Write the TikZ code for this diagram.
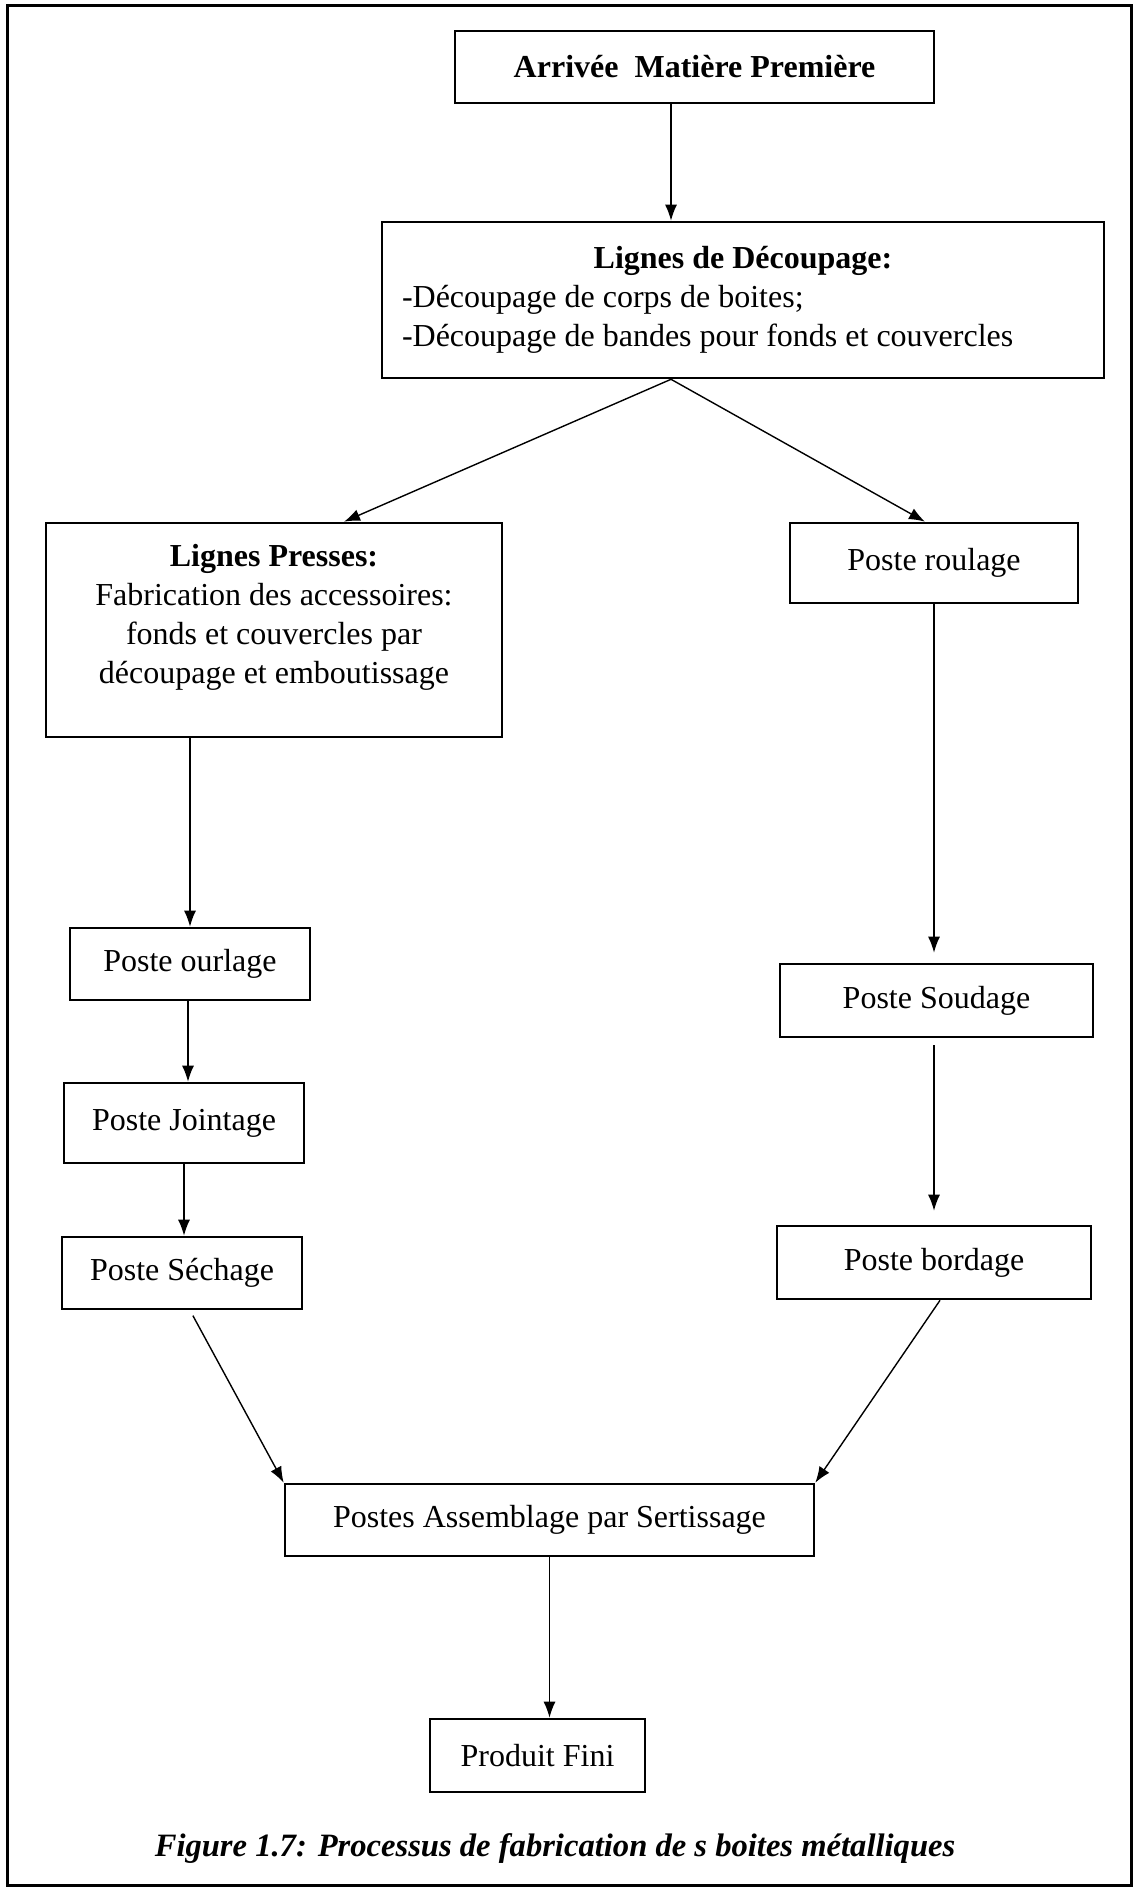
\documentclass[tikz,border=0pt]{standalone}
\usepackage{fontspec}
\setmainfont{Liberation Serif}
\usetikzlibrary{arrows.meta}
\tikzset{flow/.style = {-{Latex[length=8pt,width=6pt]}, line width=0.7pt}}
\tikzset{stepbox/.style = {draw, line width=1.3pt, inner sep=2pt, align=center,
                           font=\fontsize{16}{19.5}\selectfont}}

\begin{document}
\begin{tikzpicture}[x=0.5pt, y=-0.5pt]
  \useasboundingbox (0,0) rectangle (1137,1888);
  \draw[line width=1.5pt] (7,6) rectangle (1131,1885);  % cadre
  % postes
  \node[stepbox, minimum width=239.5pt, minimum height=36pt] (arrivee) at (694.5,67)
    {\textbf{Arrivée~ Matière Première}};
  \node[stepbox, minimum width=361pt, minimum height=78pt] (decoupage) at (743,300)
    {\textbf{Lignes de Découpage:}\\
     \makebox[341pt][l]{-Découpage de corps de boites;}\\
     \makebox[341pt][l]{-Découpage de bandes pour fonds et couvercles}};
  \node[stepbox, minimum width=228pt, minimum height=107pt] (presses) at (274,630)
    {\textbf{Lignes Presses:}\\ Fabrication des accessoires:\\ fonds et couvercles par\\
     découpage et emboutissage\\[-3.5pt]};
  \node[stepbox, minimum width=144pt, minimum height=40pt] (roulage) at (934,563) {Poste roulage};
  \node[stepbox, minimum width=120pt, minimum height=36pt] (ourlage) at (190,964) {Poste ourlage};
  \node[stepbox, minimum width=120pt, minimum height=40pt] (jointage) at (184,1123) {Poste Jointage};
  \node[stepbox, minimum width=120pt, minimum height=36pt] (sechage) at (182,1273) {Poste Séchage};
  \node[stepbox, minimum width=156.5pt, minimum height=36.5pt] (soudage) at (936.5,1000.5) {Poste Soudage};
  \node[stepbox, minimum width=157pt, minimum height=36.5pt] (bordage) at (934,1262.5) {Poste bordage};
  \node[stepbox, minimum width=264.5pt, minimum height=36pt] (assemblage) at (549.5,1520)
    {Postes Assemblage par Sertissage};
  \node[stepbox, minimum width=107.5pt, minimum height=36.5pt] (produit) at (537.5,1755.5) {Produit Fini};
  \node[font=\fontsize{16.3}{19.5}\selectfont\bfseries\itshape] (legende) at (555,1848)
    {Figure 1.7: Processus de fabrication de s boites métalliques};
  % liaisons
  \draw[flow] ([xshift=-11.75pt]arrivee.south) -- ([xshift=-11.75pt]arrivee.south |- decoupage.north);
  \draw[flow] ([xshift=-36pt]decoupage.south) -- ([xshift=35pt]presses.north);
  \draw[flow] ([xshift=-36pt]decoupage.south) -- ([xshift=-4.5pt]roulage.north);
  \draw[flow] (presses.south -| ourlage.north) -- (ourlage.north);
  \draw[flow, shorten >=5pt] (roulage.south) -- (roulage.south |- soudage.north);
  \draw[flow] ([xshift=-1pt]ourlage.south) -- ([xshift=-1pt]ourlage.south |- jointage.north);
  \draw[flow] (jointage.south) -- (jointage.south |- sechage.north);
  \draw[flow, shorten <=3.5pt, shorten >=7pt] (bordage.north |- soudage.south) -- (bordage.north);
  \draw[flow, shorten <=3pt] ([xshift=4pt]sechage.south) -- (assemblage.north west);
  \draw[flow] ([xshift=3pt]bordage.south) -- (assemblage.north east);
  \draw[flow] (assemblage.south) -- (assemblage.south |- produit.north);
\end{tikzpicture}
\end{document}
